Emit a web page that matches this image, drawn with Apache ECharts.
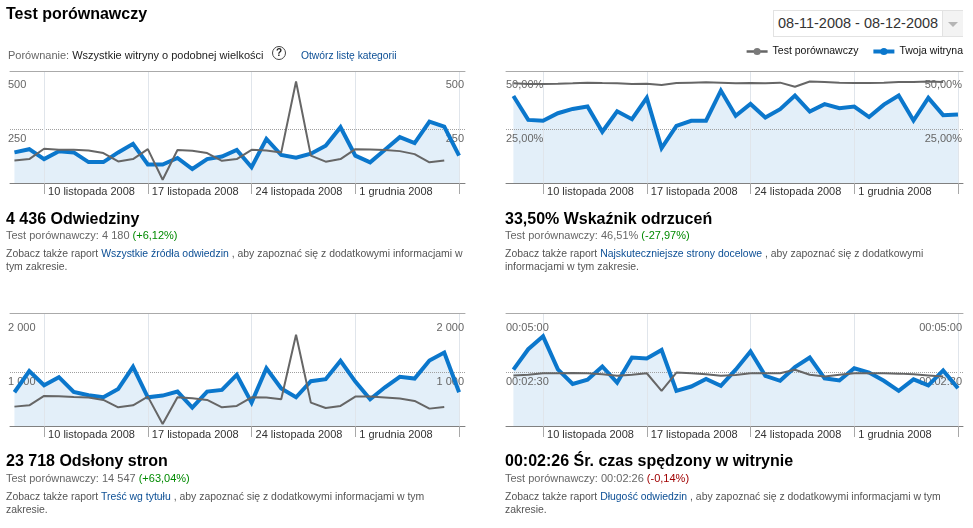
<!DOCTYPE html>
<html><head><meta charset="utf-8">
<script src="https://cdn.jsdelivr.net/npm/echarts@6/dist/echarts.min.js"></script>
<style>
html,body{margin:0;padding:0;background:#fff;}
body{width:973px;height:528px;position:relative;overflow:hidden;font-family:"Liberation Sans",Arial,sans-serif;}
#chart{position:absolute;left:0;top:0;width:973px;height:528px;}
.t{position:absolute;white-space:nowrap;}
.h1{left:6px;top:5px;font-weight:bold;font-size:16px;line-height:18px;color:#000;}
.cmp{left:8px;top:49px;font-size:11px;line-height:13px;color:#222;}
.cmp .lab{color:#666;}
.q{position:absolute;left:272px;top:46px;width:14px;height:14px;border:1.5px solid #444;border-radius:50%;box-sizing:border-box;font-weight:bold;font-size:10px;line-height:11px;text-align:center;color:#222;}
.lnk{color:#0c4f95;}
.olink{left:301px;top:49px;font-size:10.3px;line-height:13px;}
.date{position:absolute;left:773px;top:10px;width:190px;height:27px;border:1px solid #e2e2e2;box-sizing:border-box;background:#fff;}
.date span{position:absolute;left:4px;top:0;font-size:14.5px;line-height:25px;color:#333;white-space:nowrap;}
.dd{position:absolute;left:168px;top:0;width:20px;height:25px;background:#f3f3f3;border-left:1px solid #e2e2e2;}
.tri{position:absolute;left:5px;top:11px;width:0;height:0;border-left:5px solid transparent;border-right:5px solid transparent;border-top:5px solid #b5b5b5;}
.pt{font-weight:bold;font-size:16px;line-height:18px;color:#000;}
.ps{font-size:11px;line-height:13px;color:#666;}
.pd{font-size:10.45px;line-height:13px;color:#555;}
.g{color:#008a00;}
.r{color:#a00000;}
</style></head><body>
<div id="chart"></div>

<div class="t h1">Test porównawczy</div>
<div class="t cmp"><span class="lab">Porównanie:</span> Wszystkie witryny o podobnej wielkości</div>
<div class="q">?</div>
<div class="t olink lnk">Otwórz listę kategorii</div>
<div class="date"><span>08-11-2008 - 08-12-2008</span><div class="dd"><div class="tri"></div></div></div>

<div class="t pt" style="left:6px;top:210px;">4 436 Odwiedziny</div>
<div class="t ps" style="left:6px;top:229px;">Test porównawczy: 4 180 <span class="g">(+6,12%)</span></div>
<div class="t pd" style="left:6px;top:247px;">Zobacz także raport <span class="lnk">Wszystkie źródła odwiedzin</span> , aby zapoznać się z dodatkowymi informacjami w<br>tym zakresie.</div>

<div class="t pt" style="left:505px;top:210px;">33,50% Wskaźnik odrzuceń</div>
<div class="t ps" style="left:505px;top:229px;">Test porównawczy: 46,51% <span class="g">(-27,97%)</span></div>
<div class="t pd" style="left:505px;top:247px;">Zobacz także raport <span class="lnk">Najskuteczniejsze strony docelowe</span> , aby zapoznać się z dodatkowymi<br>informacjami w tym zakresie.</div>

<div class="t pt" style="left:6px;top:452px;">23 718 Odsłony stron</div>
<div class="t ps" style="left:6px;top:472px;">Test porównawczy: 14 547 <span class="g">(+63,04%)</span></div>
<div class="t pd" style="left:6px;top:490px;">Zobacz także raport <span class="lnk">Treść wg tytułu</span> , aby zapoznać się z dodatkowymi informacjami w tym<br>zakresie.</div>

<div class="t pt" style="left:505px;top:452px;">00:02:26 Śr. czas spędzony w witrynie</div>
<div class="t ps" style="left:505px;top:472px;">Test porównawczy: 00:02:26 <span class="r">(-0,14%)</span></div>
<div class="t pd" style="left:505px;top:490px;">Zobacz także raport <span class="lnk">Długość odwiedzin</span> , aby zapoznać się z dodatkowymi informacjami w tym<br>zakresie.</div>

<script>
// ---- data ----
const days = ['2008-11-08','2008-11-09','2008-11-10','2008-11-11','2008-11-12','2008-11-13','2008-11-14','2008-11-15','2008-11-16','2008-11-17','2008-11-18','2008-11-19','2008-11-20','2008-11-21','2008-11-22','2008-11-23','2008-11-24','2008-11-25','2008-11-26','2008-11-27','2008-11-28','2008-11-29','2008-11-30','2008-12-01','2008-12-02','2008-12-03','2008-12-04','2008-12-05','2008-12-06','2008-12-07','2008-12-08'];
const weekTicks = [2, 9, 16, 23, 30];
const weekLabelTicks = [2, 9, 16, 23];
const weekLabels = ['10 listopada 2008', '17 listopada 2008', '24 listopada 2008', '1 grudnia 2008'];
const benchName = 'Test porównawczy';
const siteName = 'Twoja witryna';

const visitsSite  = [142,157,111,147,142,97,97,142,182,86,86,116,65,111,123,154,73,205,130,117,136,173,259,127,96,154,213,185,285,262,127];
const visitsBench = [105,111,159,154,154,151,139,100,111,157,15,153,150,139,103,111,154,151,142,471,127,99,111,157,156,153,148,134,96,105];
const visitsTicks = [250, 500];
const visitsTickLabels = ['250', '500'];

const bounceSite  = [40.4,29.3,28.9,32.4,34.4,35.5,23.8,33.3,29.6,39.5,16.2,26.5,28.9,28.9,42.9,31.2,36.7,30.4,34.3,40.6,33.2,36.6,34.7,35.5,30.6,36.4,40.6,29.0,39.5,31.5,31.8];
const bounceBench = [46.3,46.0,46.0,46.1,46.3,46.6,46.4,46.3,46.0,46.1,45.5,46.4,46.6,46.8,46.6,46.3,46.4,46.3,46.6,44.7,47.1,46.9,46.6,46.4,46.4,46.6,46.9,46.9,47.1,46.9];
const bounceTicks = [25, 50];
const bounceTickLabels = ['25,00%', '50,00%'];

const pagesSite  = [627,1019,758,907,633,571,534,689,1099,534,565,640,342,640,671,950,435,1074,696,534,832,869,1211,826,497,720,913,882,1217,1366,627];
const pagesBench = [360,385,559,553,540,528,484,348,385,546,37,534,515,484,348,373,534,528,497,1695,435,335,373,546,546,528,509,466,323,354];
const pagesTicks = [1000, 2000];
const pagesTickLabels = ['1 000', '2 000'];

const timeSite  = [157,214,250,158,117,129,166,121,191,188,212,98,110,131,112,157,208,140,126,164,191,133,127,161,149,126,98,130,113,155,105];
const timeBench = [141,143,147,147,148,147,144,140,143,147,98,149,147,144,140,142,147,147,147,157,143,138,143,147,147,147,146,144,141,138];
const timeTicks = [150, 300];
const timeTickLabels = ['00:02:30', '00:05:00'];

// ---- chart ----
const FF = '"Liberation Sans", Arial, sans-serif';
const panels = [
  {site: visitsSite, bench: visitsBench, ticks: visitsTicks, labels: visitsTickLabels, max: 520,  left: 10,  width: 455, top: 71,  height: 112, xmin: -0.3, xmax: 30.4, lm: -2},
  {site: bounceSite, bench: bounceBench, ticks: bounceTicks, labels: bounceTickLabels, max: 52,   left: 506, width: 457, top: 71,  height: 112, xmin: -0.5, xmax: 30.34, lm: 0},
  {site: pagesSite,  bench: pagesBench,  ticks: pagesTicks,  labels: pagesTickLabels,  max: 2100, left: 10,  width: 455, top: 313, height: 113, xmin: -0.3, xmax: 30.4, lm: -2},
  {site: timeSite,   bench: timeBench,   ticks: timeTicks,   labels: timeTickLabels,   max: 315,  left: 506, width: 457, top: 313, height: 113, xmin: -0.5, xmax: 30.34, lm: 0}
];

const grid = [], xAxis = [], yAxis = [], series = [];
panels.forEach((p, k) => {
  grid.push({left: p.left, top: p.top, width: p.width, height: p.height, containLabel: false});
  xAxis.push({
    gridIndex: k, type: 'value', position: 'bottom', min: p.xmin, max: p.xmax, z: 2,
    axisLine: {show: true, onZero: false, lineStyle: {color: '#808080', width: 1}},
    axisTick: {show: true, customValues: weekTicks, length: 11, lineStyle: {color: '#a8a8a8'}},
    axisLabel: {customValues: weekLabelTicks, formatter: v => weekLabels[weekLabelTicks.indexOf(v)] || '',
      align: 'left', margin: 2, padding: [0, 0, 0, 4], color: '#333', fontSize: 11, lineHeight: 13, fontFamily: FF},
    splitLine: {show: true, lineStyle: {color: '#e0e5eb', width: 1}}
  });
  xAxis.push({
    gridIndex: k, type: 'value', position: 'top', min: p.xmin, max: p.xmax, z: 2,
    axisLine: {show: true, onZero: false, lineStyle: {color: '#aaaaaa', width: 1}},
    axisTick: {show: false}, axisLabel: {show: false}, splitLine: {show: false}
  });
  const fmt = v => p.labels[p.ticks.indexOf(v)] || '';
  yAxis.push({
    gridIndex: k, type: 'value', position: 'left', min: 0, max: p.max, z: 2,
    axisLine: {show: false}, axisTick: {show: false, customValues: [p.ticks[0]]},
    splitLine: {show: true, lineStyle: {type: 'dotted', color: '#a0a0a0', width: 1}},
    axisLabel: {inside: true, customValues: p.ticks, formatter: fmt, verticalAlign: 'top',
      padding: [3, 0, 0, 0], margin: p.lm, color: '#666', fontSize: 11, lineHeight: 13, fontFamily: FF}
  });
  yAxis.push({
    gridIndex: k, type: 'value', position: 'right', min: 0, max: p.max, z: 2,
    axisLine: {show: false}, axisTick: {show: false}, splitLine: {show: false},
    axisLabel: {inside: true, customValues: p.ticks, formatter: fmt, verticalAlign: 'top',
      padding: [3, 0, 0, 0], margin: 1, color: '#666', fontSize: 11, lineHeight: 13, fontFamily: FF}
  });
  const siteData = p.site.map((v, i) => [i, v]);
  series.push({
    name: siteName + ' (obszar)', type: 'line', xAxisIndex: 2 * k, yAxisIndex: 2 * k,
    data: siteData, showSymbol: false,
    lineStyle: {width: 0, opacity: 0},
    areaStyle: {color: '#e3eff9', opacity: 1},
    z: 1, silent: true
  });
  series.push({
    name: siteName, type: 'line', xAxisIndex: 2 * k, yAxisIndex: 2 * k,
    data: siteData,
    showSymbol: false, symbol: 'circle', symbolSize: 9,
    lineStyle: {color: '#0b77cc', width: 4, join: 'miter'},
    itemStyle: {color: '#0b77cc'},
    z: 3, silent: true
  });
  series.push({
    name: benchName, type: 'line', xAxisIndex: 2 * k, yAxisIndex: 2 * k,
    data: p.bench.map((v, i) => [i, v]),
    showSymbol: false, symbol: 'circle', symbolSize: 6,
    lineStyle: {color: '#666666', width: 2},
    itemStyle: {color: '#7a7a7a'},
    z: 4, silent: true
  });
});

const chart = echarts.init(document.getElementById('chart'), null, {renderer: 'canvas'});
chart.setOption({
  animation: false,
  backgroundColor: 'transparent',
  legend: {
    data: [
      {name: benchName, lineStyle: {width: 2.5}},
      {name: siteName, lineStyle: {width: 4}}
    ],
    right: 10, top: 46, padding: 0, itemWidth: 21, itemHeight: 9, itemGap: 13,
    selectedMode: false, textStyle: {fontSize: 10.5, color: '#111', fontFamily: FF}
  },
  grid, xAxis, yAxis, series
});
</script>
</body></html>
